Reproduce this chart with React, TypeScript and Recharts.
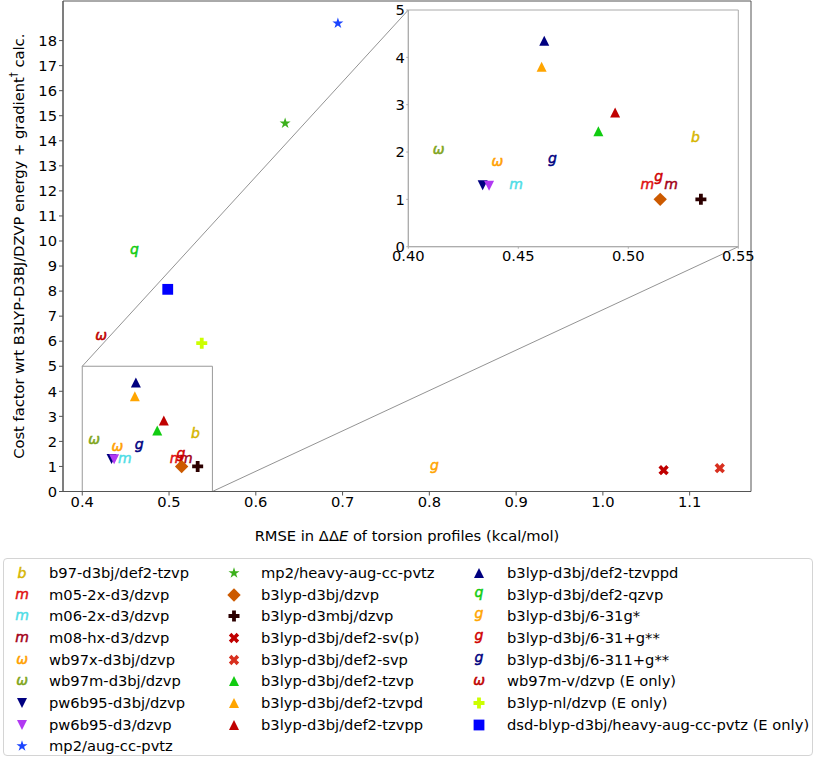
import React from 'react';
import {
  ScatterChart,
  Scatter,
  XAxis,
  YAxis,
  CartesianGrid,
  ReferenceArea,
  ReferenceLine,
} from 'recharts';

const METHODS = [
  'b97-d3bj/def2-tzvp',
  'm05-2x-d3/dzvp',
  'm06-2x-d3/dzvp',
  'm08-hx-d3/dzvp',
  'wb97x-d3bj/dzvp',
  'wb97m-d3bj/dzvp',
  'pw6b95-d3bj/dzvp',
  'pw6b95-d3/dzvp',
  'mp2/aug-cc-pvtz',
  'mp2/heavy-aug-cc-pvtz',
  'b3lyp-d3bj/dzvp',
  'b3lyp-d3mbj/dzvp',
  'b3lyp-d3bj/def2-sv(p)',
  'b3lyp-d3bj/def2-svp',
  'b3lyp-d3bj/def2-tzvp',
  'b3lyp-d3bj/def2-tzvpd',
  'b3lyp-d3bj/def2-tzvpp',
  'b3lyp-d3bj/def2-tzvppd',
  'b3lyp-d3bj/def2-qzvp',
  'b3lyp-d3bj/6-31g*',
  'b3lyp-d3bj/6-31+g**',
  'b3lyp-d3bj/6-311+g**',
  'wb97m-v/dzvp (E only)',
  'b3lyp-nl/dzvp (E only)',
  'dsd-blyp-d3bj/heavy-aug-cc-pvtz (E only)',
];

// RMSE in ddE (kcal/mol)
const RMSE = [
  0.5305, 0.5086, 0.449, 0.5194, 0.4405, 0.4138, 0.4338, 0.4367, 0.6946, 0.6338, 0.5145, 0.533, 1.07,
  1.1347, 0.4864, 0.4606, 0.494, 0.4618, 0.46, 0.806, 0.5138, 0.4655, 0.4216, 0.5377, 0.4985,
];

// cost factor wrt b3lyp-d3bj/dzvp
const COST = [
  2.33, 1.3, 1.3, 1.3, 1.78, 2.04, 1.3, 1.29, 18.69, 14.7, 1.0, 1.0, 0.85, 0.93, 2.44, 3.8, 2.835, 4.35,
  9.59, 0.95, 1.44, 1.81, 6.21, 5.92, 8.07,
];

const MARKERS = [
  'b', 'm', 'm', 'm', 'ω', 'ω', 'v', 'v', '*', '*', 'D', 'P', 'X', 'X', '^', '^', '^', '^', 'q', 'g', 'g', 'g', 'ω', 'P', 's',
];

const COLORS = [
  '#d6b500', '#e01010', '#4fdde6', '#a30018', '#ffa000', '#80a51c', '#000080', '#b139f2', '#1a44ff',
  '#3cb01c', '#cc5a00', '#2c0000', '#c00000', '#d8301f', '#11cc11', '#ffa500', '#c00000', '#000080',
  '#11cc11', '#ffa500', '#d00000', '#000080', '#c00000', '#ccff00', '#0000ff',
];

const LEGEND_COLUMNS = [9, 8, 8];

const MAIN_X_TICKS = [0.4, 0.5, 0.6, 0.7, 0.8, 0.9, 1.0, 1.1];
const MAIN_Y_TICKS = [0, 1, 2, 3, 4, 5, 6, 7, 8, 9, 10, 11, 12, 13, 14, 15, 16, 17, 18];
const INSET_X_TICKS = [0.4, 0.45, 0.5, 0.55];
const INSET_Y_TICKS = [0, 1, 2, 3, 4, 5];

const X_DOMAIN = [0.3778, 1.1707];
const Y_DOMAIN = [0, 19.58];
const ZOOM_X = [0.4, 0.55];
const ZOOM_Y = [0, 5];

const FONT = '"DejaVu Sans", sans-serif';
const FS = 14.7;

// plot areas in page pixels
const MAIN = { left: 63, top: 1, width: 688, height: 490.5 };
const INSET = { left: 408.3, top: 10, width: 330, height: 236.7 };

const pxToX = (px: number) => X_DOMAIN[0] + ((px - MAIN.left) / MAIN.width) * (X_DOMAIN[1] - X_DOMAIN[0]);
const pxToY = (py: number) => Y_DOMAIN[1] - ((py - MAIN.top) / MAIN.height) * (Y_DOMAIN[1] - Y_DOMAIN[0]);

const TEXT_BASELINE: Record<string, number> = { b: 0.37, m: 0.27, 'ω': 0.27, g: 0.17, q: 0.17 };

function Marker({ kind, color, cx, cy }: { kind: string; color: string; cx: number; cy: number }) {
  switch (kind) {
    case '^':
      return <polygon points={`${cx},${cy - 5} ${cx + 5},${cy + 5} ${cx - 5},${cy + 5}`} fill={color} />;
    case 'v':
      return <polygon points={`${cx},${cy + 5} ${cx + 5},${cy - 5} ${cx - 5},${cy - 5}`} fill={color} />;
    case 'D':
      return <polygon points={`${cx},${cy - 6.7} ${cx + 6.7},${cy} ${cx},${cy + 6.7} ${cx - 6.7},${cy}`} fill={color} />;
    case 's':
      return <rect x={cx - 5.4} y={cy - 5.4} width={10.8} height={10.8} fill={color} />;
    case 'P':
    case 'X': {
      const a = 5.5;
      const w = kind === 'P' ? 1.9 : 1.8;
      const d = `M${-w},${-a} H${w} V${-w} H${a} V${w} H${w} V${a} H${-w} V${w} H${-a} V${-w} H${-w} Z`;
      return <path d={d} fill={color} transform={`translate(${cx},${cy}) rotate(${kind === 'X' ? 45 : 0})`} />;
    }
    case '*': {
      const pts: string[] = [];
      for (let i = 0; i < 10; i++) {
        const r = i % 2 === 0 ? 5.8 : 5.8 * 0.382;
        const t = (Math.PI / 5) * i - Math.PI / 2;
        pts.push(`${cx + r * Math.cos(t)},${cy + r * Math.sin(t)}`);
      }
      return <polygon points={pts.join(' ')} fill={color} />;
    }
    default:
      return (
        <text
          x={cx}
          y={cy + TEXT_BASELINE[kind] * 14}
          textAnchor="middle"
          fontFamily={FONT}
          fontStyle="italic"
          fontSize={14}
          fill={color}
          stroke={color}
          strokeWidth={0.5}
        >
          {kind}
        </text>
      );
  }
}

const SERIES = METHODS.map((name, i) => ({
  name,
  kind: MARKERS[i],
  color: COLORS[i],
  data: [{ x: RMSE[i], y: COST[i] }],
}));

const tickStyle = { fontSize: FS, fill: '#000', fontFamily: FONT };

function XLabel(props: any) {
  const vb = props.viewBox;
  return (
    <text x={vb.x + vb.width / 2} y={vb.y + 49} textAnchor="middle" fontFamily={FONT} fontSize={FS} fill="#000">
      RMSE in ΔΔ<tspan fontStyle="italic">E</tspan> of torsion profiles (kcal/mol)
    </text>
  );
}

function YLabel(props: any) {
  const vb = props.viewBox;
  const x = 18;
  const y = vb.y + vb.height / 2;
  return (
    <text
      x={x}
      y={y}
      transform={`rotate(-90, ${x}, ${y})`}
      textAnchor="middle"
      dominantBaseline="central"
      fontFamily={FONT}
      fontSize={FS}
      fill="#000"
    >
      Cost factor wrt B3LYP-D3BJ/DZVP energy + gradient
      <tspan fontSize={10} dy={-5}>†</tspan>
      <tspan dy={5}> calc.</tspan>
    </text>
  );
}

function MainChart() {
  const chartW = 816;
  const chartH = 560;
  return (
    <ScatterChart
      width={chartW}
      height={chartH}
      margin={{ top: MAIN.top, right: chartW - MAIN.left - MAIN.width, left: 0, bottom: 0 }}
    >
      <XAxis
        type="number"
        dataKey="x"
        domain={X_DOMAIN}
        ticks={MAIN_X_TICKS}
        tickFormatter={(v) => v.toFixed(1)}
        height={chartH - MAIN.top - MAIN.height}
        tick={tickStyle}
        tickSize={4}
        tickMargin={1.5}
        stroke="#555"
        allowDataOverflow
        label={{ content: XLabel }}
      />
      <YAxis
        type="number"
        dataKey="y"
        domain={Y_DOMAIN}
        ticks={MAIN_Y_TICKS}
        width={MAIN.left}
        tick={tickStyle}
        tickSize={4}
        tickMargin={2}
        stroke="#555"
        allowDataOverflow
        label={{ content: YLabel }}
      />
      <ReferenceArea x1={X_DOMAIN[0]} x2={X_DOMAIN[1]} y1={Y_DOMAIN[0]} y2={Y_DOMAIN[1]} fill="none" stroke="#555" />
      <ReferenceArea x1={ZOOM_X[0]} x2={ZOOM_X[1]} y1={ZOOM_Y[0]} y2={ZOOM_Y[1]} fill="none" stroke="#999" />
      <ReferenceLine
        segment={[
          { x: ZOOM_X[0], y: ZOOM_Y[1] },
          { x: pxToX(INSET.left), y: pxToY(INSET.top) },
        ]}
        stroke="#777"
        strokeWidth={0.8}
      />
      <ReferenceLine
        segment={[
          { x: ZOOM_X[1], y: ZOOM_Y[0] },
          { x: pxToX(INSET.left + INSET.width), y: pxToY(INSET.top + INSET.height) },
        ]}
        stroke="#777"
        strokeWidth={0.8}
      />
      {SERIES.map((s) => (
        <Scatter
          key={s.name}
          name={s.name}
          data={s.data}
          isAnimationActive={false}
          shape={(p: any) => <Marker kind={s.kind} color={s.color} cx={p.cx} cy={p.cy} />}
        />
      ))}
    </ScatterChart>
  );
}

function InsetChart() {
  const boxLeft = 368;
  const chartW = 396;
  const chartH = 275;
  const inZoom = (d: { x: number; y: number }) =>
    d.x >= ZOOM_X[0] && d.x <= ZOOM_X[1] && d.y >= ZOOM_Y[0] && d.y <= ZOOM_Y[1];
  return (
    <div style={{ position: 'absolute', left: boxLeft, top: 0 }}>
      <ScatterChart
        width={chartW}
        height={chartH}
        margin={{ top: INSET.top, right: chartW - (INSET.left - boxLeft) - INSET.width, left: 0, bottom: 0 }}
      >
        <CartesianGrid horizontal={false} vertical={false} fill="#fff" fillOpacity={1} />
        <XAxis
          type="number"
          dataKey="x"
          domain={ZOOM_X}
          ticks={INSET_X_TICKS}
          tickFormatter={(v) => v.toFixed(2)}
          height={chartH - INSET.top - INSET.height}
          tick={tickStyle}
          tickSize={2}
          tickMargin={2}
          stroke="#aaa"
          allowDataOverflow
        />
        <YAxis
          type="number"
          dataKey="y"
          domain={ZOOM_Y}
          ticks={INSET_Y_TICKS}
          width={INSET.left - boxLeft}
          tick={tickStyle}
          tickSize={2}
          tickMargin={1.5}
          stroke="#aaa"
          allowDataOverflow
        />
        <ReferenceArea x1={ZOOM_X[0]} x2={ZOOM_X[1]} y1={ZOOM_Y[0]} y2={ZOOM_Y[1]} fill="none" stroke="#aaa" />
        {SERIES.filter((s) => inZoom(s.data[0])).map((s) => (
          <Scatter
            key={s.name}
            name={s.name}
            data={s.data}
            isAnimationActive={false}
            shape={(p: any) => <Marker kind={s.kind} color={s.color} cx={p.cx} cy={p.cy} />}
          />
        ))}
      </ScatterChart>
    </div>
  );
}

function LegendBox() {
  const top = 558;
  const colMarker = [21, 233, 478];
  const colText = [48, 260, 506];
  const rowH = 21.65;
  const firstRow = 572 - top;
  let idx = 0;
  const items: React.ReactNode[] = [];
  LEGEND_COLUMNS.forEach((count, c) => {
    for (let r = 0; r < count; r++) {
      const s = SERIES[idx++];
      const cy = firstRow + r * rowH;
      items.push(
        <svg
          key={`m${s.name}`}
          width={24}
          height={20}
          style={{ position: 'absolute', left: colMarker[c] - 3 - 12, top: cy - 10, overflow: 'visible' }}
        >
          <Marker kind={s.kind} color={s.color} cx={12} cy={10} />
        </svg>,
        <div
          key={`t${s.name}`}
          style={{
            position: 'absolute',
            left: colText[c] - 3,
            top: cy - 10,
            height: 20,
            lineHeight: '20px',
            fontSize: FS,
            whiteSpace: 'nowrap',
            color: '#000',
          }}
        >
          {s.name}
        </div>,
      );
    }
  });
  return (
    <div
      style={{
        position: 'absolute',
        left: 3,
        top,
        width: 810,
        height: 198,
        border: '1px solid #d4d4d4',
        borderRadius: 4,
        boxSizing: 'border-box',
        fontFamily: FONT,
      }}
    >
      {items}
    </div>
  );
}

export default function App() {
  return (
    <div
      style={{
        position: 'absolute',
        left: 0,
        top: 0,
        width: 816,
        height: 759,
        background: '#fff',
        fontFamily: FONT,
      }}
    >
      <div style={{ position: 'absolute', left: 0, top: 0 }}>
        <MainChart />
      </div>
      <InsetChart />
      <LegendBox />
    </div>
  );
}
